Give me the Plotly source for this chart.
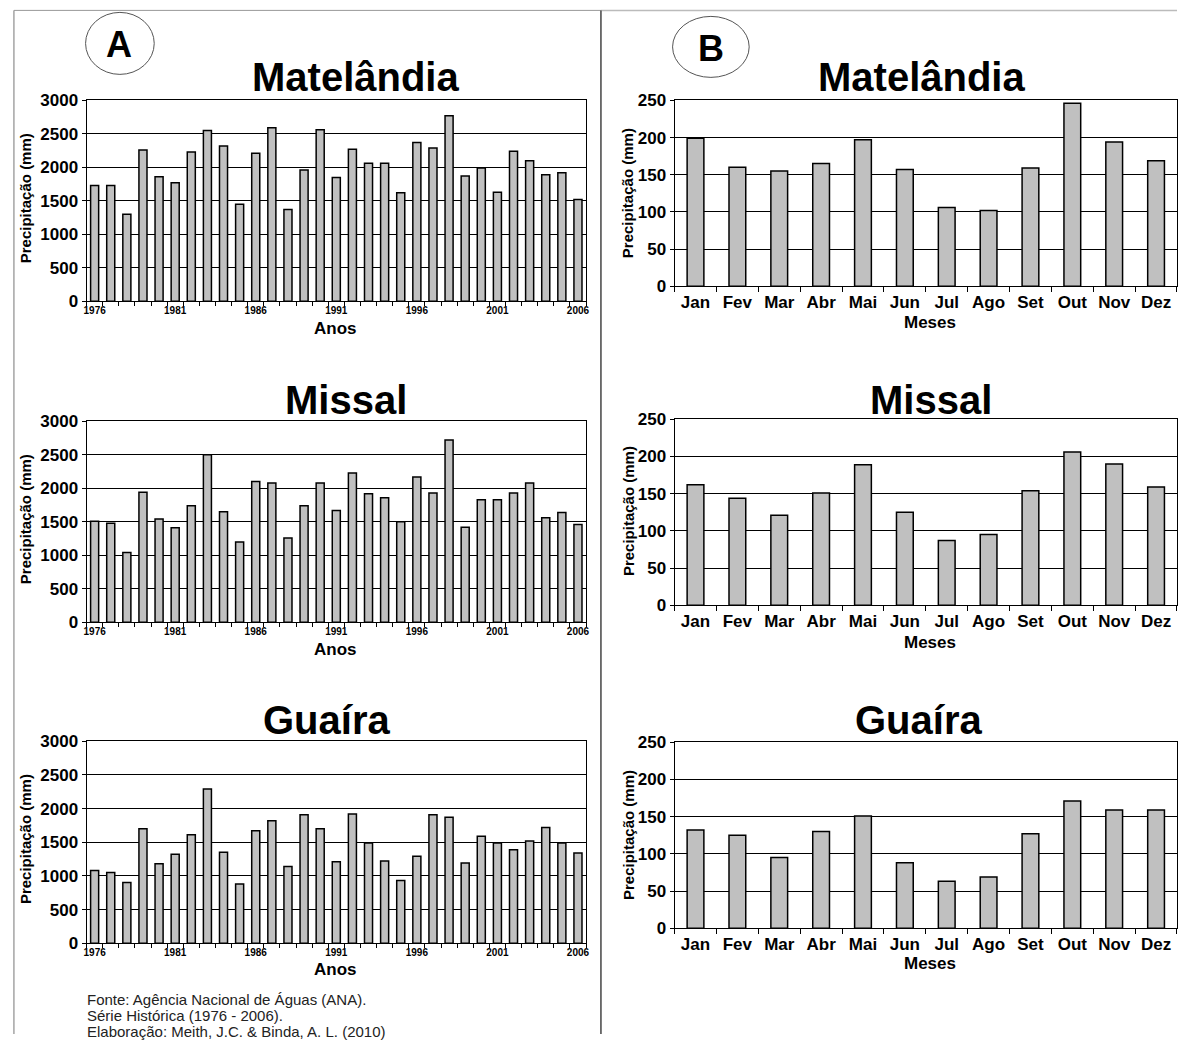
import plotly.graph_objects as go

W, H = 1180, 1044
# Vertical placement calibration measured from earlier renders (rendered y ~= 0.982*y + 8.6)
Y_SCALE, Y_OFF = 0.982, 8.6

anos = list(range(1976, 2007))
rotulos_anos = [1976, 1981, 1986, 1991, 1996, 2001, 2006]

matelandia_anual = [1730, 1730, 1300, 2260, 1860, 1770, 2230, 2550, 2320, 1450,
                    2210, 2590, 1370, 1960, 2560, 1850, 2270, 2060, 2060, 1620,
                    2370, 2290, 2770, 1870, 1990, 1630, 2240, 2100, 1890, 1920, 1520]
missal_anual = [1510, 1480, 1040, 1940, 1540, 1410, 1740, 2500, 1650, 1200,
                2100, 2080, 1260, 1740, 2080, 1670, 2230, 1920, 1860, 1500,
                2170, 1930, 2720, 1420, 1830, 1830, 1930, 2080, 1560, 1640, 1460]
guaira_anual = [1080, 1050, 900, 1700, 1180, 1320, 1610, 2290, 1350, 880,
                1670, 1820, 1140, 1910, 1700, 1210, 1920, 1490, 1220, 930,
                1290, 1910, 1870, 1190, 1590, 1490, 1390, 1520, 1720, 1490, 1340]

meses = ["Jan", "Fev", "Mar", "Abr", "Mai", "Jun", "Jul", "Ago", "Set", "Out", "Nov", "Dez"]
matelandia_mensal = [199, 160, 155, 165, 197, 157, 106, 102, 159, 246, 194, 169]
missal_mensal = [162, 144, 121, 151, 189, 125, 87, 95, 154, 206, 190, 159]
guaira_mensal = [132, 125, 95, 130, 151, 88, 63, 69, 127, 171, 159, 159]

estacoes = ["Matelândia", "Missal", "Guaíra"]
FONT = "Liberation Sans, Arial, sans-serif"
NARROW = "Liberation Sans Narrow, Arial Narrow, Liberation Sans, Arial, sans-serif"


def px(x):
    return min(max(x / W, 0), 1)


def py(y):
    return min(max(1 - ((y - Y_OFF) / Y_SCALE) / H, 0), 1)


fig = go.Figure()

# target pixel boxes: (x0, x1, ytop, ybottom)
left_boxes = [(84, 586, 100, 301), (84, 586, 421, 622), (84, 586, 741, 943)]
right_boxes = [(675, 1180, 100, 286), (675, 1180, 419, 605), (675, 1180, 742, 928)]

anual = [matelandia_anual, missal_anual, guaira_anual]
mensal = [matelandia_mensal, missal_mensal, guaira_mensal]

bar_style = dict(marker=dict(color="#c0c0c0", line=dict(color="black", width=1.5)), showlegend=False)

layout_axes = {}
for i in range(3):
    # left (annual) chart
    n = 2 * i + 1
    xa = "x" if n == 1 else f"x{n}"
    ya = "y" if n == 1 else f"y{n}"
    fig.add_trace(go.Bar(x=anos, y=anual[i], width=0.5, xaxis=xa, yaxis=ya, **bar_style))
    x0, x1, yt, yb = left_boxes[i]
    layout_axes["xaxis" if n == 1 else f"xaxis{n}"] = dict(
        domain=[px(x0), px(x1)], anchor=ya, range=[anos[0] - 0.5, anos[-1] + 0.5],
        tickmode="array", tickvals=rotulos_anos, ticks="", showgrid=False, tickangle=0,
        tickfont=dict(family=NARROW, size=10, color="black", weight="bold"),
        showline=True, linecolor="black", linewidth=1, mirror=True,
        minor=dict(tickmode="array", tickvals=[a - 0.5 for a in anos] + [anos[-1] + 0.5],
                   ticks="outside", ticklen=4, tickcolor="black", showgrid=False),
        fixedrange=True)
    layout_axes["yaxis" if n == 1 else f"yaxis{n}"] = dict(
        domain=[py(yb), py(yt)], anchor=xa, range=[0, 3000], dtick=500,
        showgrid=True, gridcolor="black", gridwidth=1,
        showline=True, linecolor="black", linewidth=1, mirror=True,
        ticks="outside", ticklen=4, tickcolor="black",
        tickfont=dict(family=FONT, size=17, color="black", weight="bold"), fixedrange=True)

    # right (monthly) chart
    n = 2 * i + 2
    xa = f"x{n}"
    ya = f"y{n}"
    fig.add_trace(go.Bar(x=meses, y=mensal[i], width=0.4, xaxis=xa, yaxis=ya, **bar_style))
    x0, x1, yt, yb = right_boxes[i]
    layout_axes[f"xaxis{n}"] = dict(
        domain=[px(x0), px(x1)], anchor=ya, type="category", tickson="boundaries",
        ticks="outside", ticklen=5, tickcolor="black", showgrid=False, tickangle=0,
        tickfont=dict(family=FONT, size=17, color="black", weight="bold"),
        showline=True, linecolor="black", linewidth=1, mirror=True, fixedrange=True)
    layout_axes[f"yaxis{n}"] = dict(
        domain=[py(yb), py(yt)], anchor=xa, range=[0, 250], dtick=50,
        showgrid=True, gridcolor="black", gridwidth=1,
        showline=True, linecolor="black", linewidth=1, mirror=True,
        ticks="outside", ticklen=4, tickcolor="black",
        tickfont=dict(family=FONT, size=17, color="black", weight="bold"), fixedrange=True)

annotations = []


def txt(text, x, y, size, bold=True, angle=0, xanchor="center", color="black"):
    annotations.append(dict(text=text, x=px(x), y=py(y), xref="paper", yref="paper",
                            showarrow=False, xanchor=xanchor, yanchor="middle", textangle=angle,
                            font=dict(family=FONT, size=size, color=color,
                                      weight="bold" if bold else "normal")))


# titles
left_titles = [(354, 77), (345, 400), (325, 720)]
right_titles = [(923, 77), (933, 400), (920, 720)]
for i, nome in enumerate(estacoes):
    txt(nome, left_titles[i][0], left_titles[i][1], 40)
    txt(nome, right_titles[i][0], right_titles[i][1], 40)

# axis titles
for yl, yr, yyl, yyr in [(328, 322, 198, 193), (649, 642, 519, 511), (969, 963, 839, 835)]:
    txt("Anos", 334, yl, 17)
    txt("Meses", 932, yr, 17)
    txt("Precipitação (mm)", 22, yyl, 15, angle=-90)
    txt("Precipitação (mm)", 628, yyr, 15, angle=-90)

# panel letters
txt("A", 117, 44, 36)
txt("B", 712, 48, 36)

# footnote
txt("Fonte: Agência Nacional de Águas (ANA).", 82, 999, 15, bold=False, xanchor="left", color="#222")
txt("Série Histórica (1976 - 2006).", 82, 1015, 15, bold=False, xanchor="left", color="#222")
txt("Elaboração: Meith, J.C. & Binda, A. L. (2010)", 82, 1031, 15, bold=False, xanchor="left", color="#222")

shapes = [
    dict(type="circle", xref="paper", yref="paper", x0=px(83), x1=px(152), y0=py(74), y1=py(12),
         line=dict(color="#555", width=1)),
    dict(type="circle", xref="paper", yref="paper", x0=px(673), x1=px(750), y0=py(77), y1=py(16),
         line=dict(color="#555", width=1)),
    dict(type="line", xref="paper", yref="paper", x0=px(11), x1=px(11), y0=py(10), y1=0,
         line=dict(color="#777", width=1)),
    dict(type="line", xref="paper", yref="paper", x0=px(11), x1=px(601), y0=py(10), y1=py(10),
         line=dict(color="#999", width=1)),
    dict(type="line", xref="paper", yref="paper", x0=px(601), x1=1, y0=py(10), y1=py(10),
         line=dict(color="#bbb", width=1.5)),
    dict(type="line", xref="paper", yref="paper", x0=px(601), x1=px(601), y0=py(10), y1=0,
         line=dict(color="#444", width=1.5)),
]

fig.update_layout(width=W, height=H, margin=dict(l=0, r=0, t=0, b=0),
                  paper_bgcolor="white", plot_bgcolor="white",
                  annotations=annotations, shapes=shapes, bargap=0.5,
                  font=dict(family=FONT, color="black"), **layout_axes)

fig.write_html("out.html", config={"displayModeBar": False})
